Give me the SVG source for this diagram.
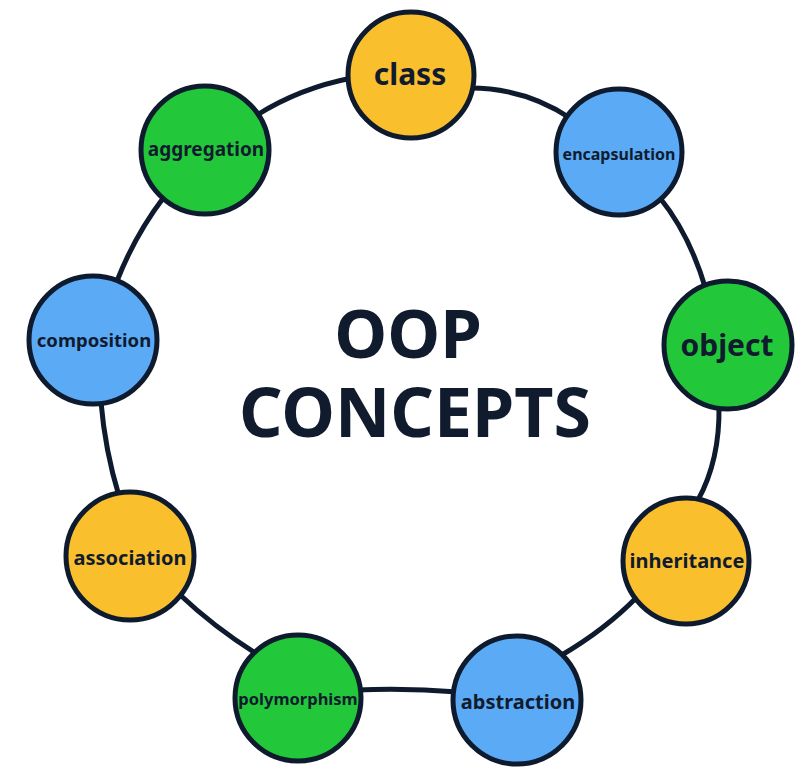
<svg xmlns="http://www.w3.org/2000/svg" width="806" height="770" viewBox="0 0 806 770">
<style>
.node{stroke:#0E1A2E;stroke-width:5}
.y{fill:#F9BF2D}.b{fill:#5AAAF6}.g{fill:#22C83A}
.lbl{font-family:"Noto Sans","Open Sans",sans-serif;font-weight:700;fill:#111B2E;text-anchor:middle}
.conn{fill:none;stroke:#0E1A2E;stroke-width:5;stroke-linecap:round}
</style>
<rect width="806" height="770" fill="#ffffff"/>
<g id="connectors">
<path class="conn" d="M470 88 Q525 88 570 118"/>
<path class="conn" d="M660 198 Q690 235 706 290"/>
<path class="conn" d="M719 406 Q720 460 698 500"/>
<path class="conn" d="M638 596 Q605 630 560 656"/>
<path class="conn" d="M458 692 Q408 688 357 690"/>
<path class="conn" d="M257 654 Q215 628 178 593"/>
<path class="conn" d="M119 496 Q105 450 101 402"/>
<path class="conn" d="M117 281 Q135 235 164 197"/>
<path class="conn" d="M257 115 Q300 88 352 78"/>
</g>
<g id="class"><circle class="node y" cx="411" cy="75" r="63"/><text class="lbl" x="410" y="85" font-size="30">class</text></g>
<g id="encapsulation"><circle class="node b" cx="619" cy="152" r="63"/><text class="lbl" x="619" y="160" font-size="16">encapsulation</text></g>
<g id="object"><circle class="node g" cx="728" cy="345" r="64"/><text class="lbl" x="727" y="356" font-size="30">object</text></g>
<g id="inheritance"><circle class="node y" cx="686" cy="561" r="63"/><text class="lbl" x="687" y="568" font-size="20">inheritance</text></g>
<g id="abstraction"><circle class="node b" cx="517" cy="700" r="64"/><text class="lbl" x="518" y="709" font-size="20">abstraction</text></g>
<g id="polymorphism"><circle class="node g" cx="298" cy="698" r="63"/><text class="lbl" x="298" y="705" font-size="16.5">polymorphism</text></g>
<g id="association"><circle class="node y" cx="130" cy="556" r="64"/><text class="lbl" x="130" y="565" font-size="20">association</text></g>
<g id="composition"><circle class="node b" cx="93" cy="340" r="64"/><text class="lbl" x="94" y="347" font-size="18.5">composition</text></g>
<g id="aggregation"><circle class="node g" cx="205" cy="150" r="64"/><text class="lbl" x="206" y="156" font-size="19">aggregation</text></g>
<g id="title">
<text class="lbl" x="408" y="358" font-size="67">OOP</text>
<text class="lbl" x="415" y="437" font-size="68">CONCEPTS</text>
</g>
</svg>
